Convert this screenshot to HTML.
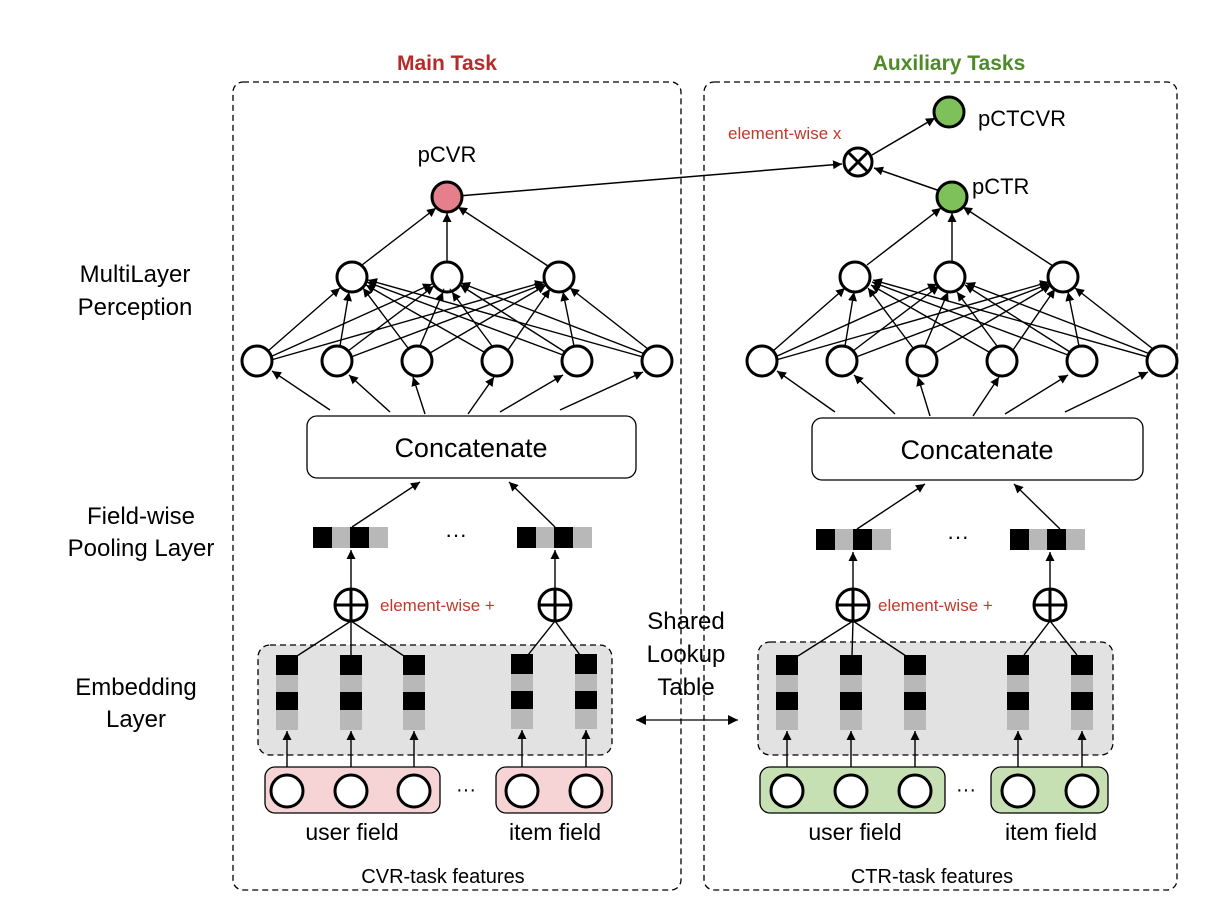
<!DOCTYPE html>
<html><head><meta charset="utf-8"><style>
html,body{margin:0;padding:0;background:#fff;}
svg{display:block;font-family:"Liberation Sans",Arial,sans-serif;}
</style></head><body>
<svg width="1212" height="924" viewBox="0 0 1212 924" xmlns="http://www.w3.org/2000/svg">
<defs>
<marker id="a" viewBox="0 0 10 10" refX="10" refY="5" markerWidth="9" markerHeight="9" markerUnits="userSpaceOnUse" orient="auto"><path d="M0,0 L10,5 L0,10 z" fill="#000"/></marker>
<marker id="b" viewBox="0 0 10 10" refX="10" refY="5" markerWidth="10" markerHeight="10" markerUnits="userSpaceOnUse" orient="auto-start-reverse"><path d="M0,0 L10,5 L0,10 z" fill="#000"/></marker>
</defs>

<!-- titles -->
<text x="447" y="70" font-size="21" font-weight="bold" fill="#b52a2a" text-anchor="middle">Main Task</text>
<text x="949" y="70" font-size="21" font-weight="bold" fill="#4f8a2a" text-anchor="middle">Auxiliary Tasks</text>

<!-- panels -->
<rect x="233" y="82" width="448" height="808" rx="10" fill="none" stroke="#000" stroke-width="1.3" stroke-dasharray="6,4"/>
<rect x="704" y="82" width="473" height="808" rx="10" fill="none" stroke="#000" stroke-width="1.3" stroke-dasharray="6,4"/>

<!-- left labels -->
<g font-size="24" text-anchor="middle" fill="#000">
<text x="135" y="282">MultiLayer</text><text x="135" y="315">Perception</text>
<text x="141" y="524">Field-wise</text><text x="141" y="556">Pooling Layer</text>
<text x="136" y="695">Embedding</text><text x="136" y="727">Layer</text>
<text x="686" y="629">Shared</text><text x="686" y="662">Lookup</text><text x="686" y="695">Table</text>
</g>
<line x1="636" y1="720" x2="738" y2="720" stroke="#000" stroke-width="1.3" marker-start="url(#b)" marker-end="url(#b)"/>

<!-- top right nodes -->
<line x1="458" y1="196" x2="842" y2="164" stroke="#000" stroke-width="1.5" marker-end="url(#a)"/>
<line x1="940" y1="191" x2="874" y2="168" stroke="#000" stroke-width="1.5" marker-end="url(#a)"/>
<line x1="872" y1="155" x2="935" y2="118" stroke="#000" stroke-width="1.5" marker-end="url(#a)"/>
<circle cx="858" cy="162" r="14" fill="#fff" stroke="#000" stroke-width="3"/>
<line x1="848" y1="152" x2="868" y2="172" stroke="#000" stroke-width="3"/>
<line x1="868" y1="152" x2="848" y2="172" stroke="#000" stroke-width="3"/>
<circle cx="949" cy="112" r="15" fill="#7ec05a" stroke="#000" stroke-width="3"/>
<circle cx="952" cy="197" r="15" fill="#7ec05a" stroke="#000" stroke-width="3"/>
<text x="978" y="126" font-size="22">pCTCVR</text>
<text x="972" y="194" font-size="22">pCTR</text>
<text x="728" y="139" font-size="17" fill="#c0392b">element-wise x</text>
<text x="447" y="162" font-size="22" text-anchor="middle">pCVR</text>
<circle cx="447" cy="197" r="15" fill="#e57f8b" stroke="#000" stroke-width="3"/>

<!-- LEFT structure -->
<g id="L">
<g stroke="#000" stroke-width="1.4" fill="none">
<!-- layer2 -> output -->
<line x1="362" y1="265" x2="436" y2="208" marker-end="url(#a)"/>
<line x1="447" y1="262" x2="447" y2="213" marker-end="url(#a)"/>
<line x1="548" y1="266" x2="458" y2="207" marker-end="url(#a)"/>
<!-- layer1 -> layer2 -->
<line x1="268" y1="351" x2="340" y2="288" marker-end="url(#a)"/>
<line x1="270" y1="357" x2="432" y2="284" marker-end="url(#a)"/>
<line x1="271" y1="360" x2="544" y2="282" marker-end="url(#a)"/>
<line x1="340" y1="346" x2="349" y2="292" marker-end="url(#a)"/>
<line x1="348" y1="351" x2="434" y2="286" marker-end="url(#a)"/>
<line x1="351" y1="357" x2="544" y2="284" marker-end="url(#a)"/>
<line x1="408" y1="348" x2="363" y2="288" marker-end="url(#a)"/>
<line x1="420" y1="346" x2="443" y2="292" marker-end="url(#a)"/>
<line x1="430" y1="353" x2="546" y2="285" marker-end="url(#a)"/>
<line x1="484" y1="352" x2="366" y2="285" marker-end="url(#a)"/>
<line x1="492" y1="346" x2="452" y2="292" marker-end="url(#a)"/>
<line x1="508" y1="350" x2="550" y2="289" marker-end="url(#a)"/>
<line x1="563" y1="355" x2="367" y2="282" marker-end="url(#a)"/>
<line x1="565" y1="352" x2="460" y2="285" marker-end="url(#a)"/>
<line x1="574" y1="346" x2="563" y2="292" marker-end="url(#a)"/>
<line x1="643" y1="357" x2="368" y2="280" marker-end="url(#a)"/>
<line x1="645" y1="354" x2="461" y2="283" marker-end="url(#a)"/>
<line x1="648" y1="349" x2="570" y2="288" marker-end="url(#a)"/>
<!-- concat -> layer1 -->
<line x1="330" y1="410" x2="272" y2="371" marker-end="url(#a)"/>
<line x1="390" y1="412" x2="349" y2="375" marker-end="url(#a)"/>
<line x1="425" y1="414" x2="413" y2="377" marker-end="url(#a)"/>
<line x1="468" y1="414" x2="494" y2="377" marker-end="url(#a)"/>
<line x1="500" y1="412" x2="563" y2="375" marker-end="url(#a)"/>
<line x1="560" y1="410" x2="643" y2="372" marker-end="url(#a)"/>
<!-- pooling -> concat -->
<line x1="352" y1="527" x2="420" y2="482" marker-end="url(#a)"/>
<line x1="555" y1="527" x2="509" y2="482" marker-end="url(#a)"/>
<!-- plus -> pooling -->
<line x1="351" y1="589" x2="351" y2="550" marker-end="url(#a)"/>
<line x1="555" y1="589" x2="555" y2="550" marker-end="url(#a)"/>
</g>
<g fill="#fff" stroke="#000" stroke-width="3">
<circle cx="352" cy="277" r="15"/><circle cx="447" cy="277" r="15"/><circle cx="559" cy="277" r="15"/>
<circle cx="257" cy="361" r="15"/><circle cx="337" cy="361" r="15"/><circle cx="417" cy="361" r="15"/>
<circle cx="497" cy="361" r="15"/><circle cx="577" cy="361" r="15"/><circle cx="657" cy="361" r="15"/>
</g>
<text x="447" y="290" font-size="12" text-anchor="middle">. .</text>
<rect x="307" y="416" width="329" height="62" rx="10" fill="#fff" stroke="#000" stroke-width="1.3"/>
<text x="471" y="457" font-size="27" text-anchor="middle">Concatenate</text>
<!-- pooling vectors -->
<g>
<rect x="313" y="527" width="19" height="21" fill="#000"/><rect x="332" y="527" width="18" height="21" fill="#b8b8b8"/>
<rect x="350" y="527" width="19" height="21" fill="#000"/><rect x="369" y="527" width="19" height="21" fill="#b8b8b8"/>
<rect x="517" y="527" width="19" height="21" fill="#000"/><rect x="536" y="527" width="18" height="21" fill="#b8b8b8"/>
<rect x="554" y="527" width="19" height="21" fill="#000"/><rect x="573" y="527" width="19" height="21" fill="#b8b8b8"/>
</g>
<text x="456" y="542" font-size="22" text-anchor="middle">···</text>
<!-- plus -->
<g fill="#fff" stroke="#000" stroke-width="3">
<circle cx="351" cy="605" r="16"/><circle cx="555" cy="605" r="16"/>
</g>
<g stroke="#000" stroke-width="3">
<line x1="335" y1="605" x2="367" y2="605"/><line x1="351" y1="589" x2="351" y2="621"/>
<line x1="539" y1="605" x2="571" y2="605"/><line x1="555" y1="589" x2="555" y2="621"/>
</g>
<text x="380" y="611" font-size="17" fill="#c0392b">element-wise +</text>
<!-- embedding -->
<rect x="258" y="645" width="354" height="110" rx="12" fill="#e2e2e2" stroke="#000" stroke-width="1.3" stroke-dasharray="6,4"/>
<g stroke="#000" stroke-width="1.4">
<line x1="351" y1="621" x2="297" y2="656"/><line x1="351" y1="621" x2="351" y2="656"/><line x1="351" y1="621" x2="404" y2="656"/>
<line x1="555" y1="621" x2="528" y2="655"/><line x1="555" y1="621" x2="580" y2="655"/>
</g>
<g>
<rect x="276" y="655" width="22" height="20" fill="#000"/><rect x="276" y="675" width="22" height="17" fill="#b8b8b8"/><rect x="276" y="692" width="22" height="18" fill="#000"/><rect x="276" y="710" width="22" height="20" fill="#b8b8b8"/>
<rect x="340" y="655" width="22" height="20" fill="#000"/><rect x="340" y="675" width="22" height="17" fill="#b8b8b8"/><rect x="340" y="692" width="22" height="18" fill="#000"/><rect x="340" y="710" width="22" height="20" fill="#b8b8b8"/>
<rect x="403" y="655" width="22" height="20" fill="#000"/><rect x="403" y="675" width="22" height="17" fill="#b8b8b8"/><rect x="403" y="692" width="22" height="18" fill="#000"/><rect x="403" y="710" width="22" height="20" fill="#b8b8b8"/>
<rect x="511" y="654" width="22" height="20" fill="#000"/><rect x="511" y="674" width="22" height="17" fill="#b8b8b8"/><rect x="511" y="691" width="22" height="18" fill="#000"/><rect x="511" y="709" width="22" height="20" fill="#b8b8b8"/>
<rect x="575" y="654" width="22" height="20" fill="#000"/><rect x="575" y="674" width="22" height="17" fill="#b8b8b8"/><rect x="575" y="691" width="22" height="18" fill="#000"/><rect x="575" y="709" width="22" height="20" fill="#b8b8b8"/>
</g>
<g stroke="#000" stroke-width="1.4">
<line x1="287" y1="775" x2="287" y2="731" marker-end="url(#a)"/>
<line x1="351" y1="775" x2="351" y2="731" marker-end="url(#a)"/>
<line x1="414" y1="775" x2="414" y2="731" marker-end="url(#a)"/>
<line x1="522" y1="775" x2="522" y2="730" marker-end="url(#a)"/>
<line x1="586" y1="775" x2="586" y2="730" marker-end="url(#a)"/>
</g>
</g>

<!-- left input boxes -->
<rect x="265" y="767" width="175" height="46" rx="10" fill="#f6d4d6" stroke="#000" stroke-width="1.3"/>
<rect x="496" y="767" width="116" height="46" rx="10" fill="#f6d4d6" stroke="#000" stroke-width="1.3"/>
<g fill="#fff" stroke="#000" stroke-width="3">
<circle cx="287" cy="791" r="16"/><circle cx="351" cy="791" r="16"/><circle cx="414" cy="791" r="16"/>
<circle cx="522" cy="791" r="16"/><circle cx="586" cy="791" r="16"/>
</g>
<text x="466" y="796" font-size="20" text-anchor="middle">···</text>
<text x="352" y="840" font-size="23" text-anchor="middle">user field</text>
<text x="555" y="840" font-size="23" text-anchor="middle">item field</text>
<text x="443" y="883" font-size="20" text-anchor="middle">CVR-task features</text>

<!-- RIGHT structure -->
<g transform="translate(505,2)">
<g stroke="#000" stroke-width="1.4" fill="none">
<line x1="362" y1="263" x2="436" y2="206" marker-end="url(#a)"/>
<line x1="447" y1="260" x2="447" y2="211" marker-end="url(#a)"/>
<line x1="548" y1="264" x2="458" y2="205" marker-end="url(#a)"/>
<line x1="268" y1="349" x2="340" y2="286" marker-end="url(#a)"/>
<line x1="270" y1="355" x2="432" y2="282" marker-end="url(#a)"/>
<line x1="271" y1="358" x2="544" y2="280" marker-end="url(#a)"/>
<line x1="340" y1="344" x2="349" y2="290" marker-end="url(#a)"/>
<line x1="348" y1="349" x2="434" y2="284" marker-end="url(#a)"/>
<line x1="351" y1="355" x2="544" y2="282" marker-end="url(#a)"/>
<line x1="408" y1="346" x2="363" y2="286" marker-end="url(#a)"/>
<line x1="420" y1="344" x2="443" y2="290" marker-end="url(#a)"/>
<line x1="430" y1="351" x2="546" y2="283" marker-end="url(#a)"/>
<line x1="484" y1="350" x2="366" y2="283" marker-end="url(#a)"/>
<line x1="492" y1="344" x2="452" y2="290" marker-end="url(#a)"/>
<line x1="508" y1="348" x2="550" y2="287" marker-end="url(#a)"/>
<line x1="563" y1="353" x2="367" y2="280" marker-end="url(#a)"/>
<line x1="565" y1="350" x2="460" y2="283" marker-end="url(#a)"/>
<line x1="574" y1="344" x2="563" y2="290" marker-end="url(#a)"/>
<line x1="643" y1="355" x2="368" y2="278" marker-end="url(#a)"/>
<line x1="645" y1="352" x2="461" y2="281" marker-end="url(#a)"/>
<line x1="648" y1="347" x2="570" y2="286" marker-end="url(#a)"/>
<line x1="330" y1="410" x2="272" y2="369" marker-end="url(#a)"/>
<line x1="390" y1="412" x2="349" y2="373" marker-end="url(#a)"/>
<line x1="425" y1="414" x2="413" y2="375" marker-end="url(#a)"/>
<line x1="468" y1="414" x2="494" y2="375" marker-end="url(#a)"/>
<line x1="500" y1="412" x2="563" y2="373" marker-end="url(#a)"/>
<line x1="560" y1="410" x2="643" y2="370" marker-end="url(#a)"/>
<line x1="352" y1="527" x2="420" y2="482" marker-end="url(#a)"/>
<line x1="555" y1="527" x2="509" y2="482" marker-end="url(#a)"/>
<line x1="348" y1="587" x2="348" y2="550" marker-end="url(#a)"/>
<line x1="545" y1="587" x2="545" y2="550" marker-end="url(#a)"/>
</g>
<g fill="#fff" stroke="#000" stroke-width="3">
<circle cx="350" cy="275" r="15"/><circle cx="445" cy="275" r="15"/><circle cx="558" cy="275" r="15"/>
<circle cx="257" cy="359" r="15"/><circle cx="337" cy="359" r="15"/><circle cx="417" cy="359" r="15"/>
<circle cx="497" cy="359" r="15"/><circle cx="577" cy="359" r="15"/><circle cx="657" cy="359" r="15"/>
</g>
<rect x="307" y="416" width="331" height="62" rx="10" fill="#fff" stroke="#000" stroke-width="1.3"/>
<text x="472" y="457" font-size="27" text-anchor="middle">Concatenate</text>
<g>
<rect x="311" y="527" width="19" height="21" fill="#000"/><rect x="330" y="527" width="18" height="21" fill="#b8b8b8"/>
<rect x="348" y="527" width="19" height="21" fill="#000"/><rect x="367" y="527" width="19" height="21" fill="#b8b8b8"/>
<rect x="505" y="527" width="19" height="21" fill="#000"/><rect x="524" y="527" width="18" height="21" fill="#b8b8b8"/>
<rect x="542" y="527" width="19" height="21" fill="#000"/><rect x="561" y="527" width="19" height="21" fill="#b8b8b8"/>
</g>
<text x="453" y="542" font-size="22" text-anchor="middle">···</text>
<g fill="#fff" stroke="#000" stroke-width="3">
<circle cx="348" cy="603" r="16"/><circle cx="545" cy="603" r="16"/>
</g>
<g stroke="#000" stroke-width="3">
<line x1="332" y1="603" x2="364" y2="603"/><line x1="348" y1="587" x2="348" y2="619"/>
<line x1="529" y1="603" x2="561" y2="603"/><line x1="545" y1="587" x2="545" y2="619"/>
</g>
<text x="373" y="609" font-size="17" fill="#c0392b">element-wise +</text>
<rect x="253" y="640" width="355" height="113" rx="12" fill="#e2e2e2" stroke="#000" stroke-width="1.3" stroke-dasharray="6,4"/>
<g stroke="#000" stroke-width="1.4">
<line x1="348" y1="619" x2="293" y2="654"/><line x1="348" y1="619" x2="347" y2="654"/><line x1="348" y1="619" x2="401" y2="654"/>
<line x1="545" y1="619" x2="519" y2="653"/><line x1="545" y1="619" x2="572" y2="653"/>
</g>
<g>
<rect x="271" y="653" width="22" height="20" fill="#000"/><rect x="271" y="673" width="22" height="17" fill="#b8b8b8"/><rect x="271" y="690" width="22" height="18" fill="#000"/><rect x="271" y="708" width="22" height="20" fill="#b8b8b8"/>
<rect x="335" y="653" width="22" height="20" fill="#000"/><rect x="335" y="673" width="22" height="17" fill="#b8b8b8"/><rect x="335" y="690" width="22" height="18" fill="#000"/><rect x="335" y="708" width="22" height="20" fill="#b8b8b8"/>
<rect x="399" y="653" width="22" height="20" fill="#000"/><rect x="399" y="673" width="22" height="17" fill="#b8b8b8"/><rect x="399" y="690" width="22" height="18" fill="#000"/><rect x="399" y="708" width="22" height="20" fill="#b8b8b8"/>
<rect x="502" y="653" width="22" height="20" fill="#000"/><rect x="502" y="673" width="22" height="17" fill="#b8b8b8"/><rect x="502" y="690" width="22" height="18" fill="#000"/><rect x="502" y="708" width="22" height="20" fill="#b8b8b8"/>
<rect x="566" y="653" width="22" height="20" fill="#000"/><rect x="566" y="673" width="22" height="17" fill="#b8b8b8"/><rect x="566" y="690" width="22" height="18" fill="#000"/><rect x="566" y="708" width="22" height="20" fill="#b8b8b8"/>
</g>
<g stroke="#000" stroke-width="1.4">
<line x1="282" y1="773" x2="282" y2="729" marker-end="url(#a)"/>
<line x1="346" y1="773" x2="346" y2="729" marker-end="url(#a)"/>
<line x1="410" y1="773" x2="410" y2="729" marker-end="url(#a)"/>
<line x1="513" y1="773" x2="513" y2="729" marker-end="url(#a)"/>
<line x1="577" y1="773" x2="577" y2="729" marker-end="url(#a)"/>
</g>
</g>

<!-- right input boxes -->
<rect x="760" y="767" width="185" height="46" rx="10" fill="#c6e0b4" stroke="#000" stroke-width="1.3"/>
<rect x="991" y="767" width="117" height="46" rx="10" fill="#c6e0b4" stroke="#000" stroke-width="1.3"/>
<g fill="#fff" stroke="#000" stroke-width="3">
<circle cx="787" cy="791" r="16"/><circle cx="851" cy="791" r="16"/><circle cx="915" cy="791" r="16"/>
<circle cx="1018" cy="791" r="16"/><circle cx="1082" cy="791" r="16"/>
</g>
<text x="966" y="796" font-size="20" text-anchor="middle">···</text>
<text x="855" y="840" font-size="23" text-anchor="middle">user field</text>
<text x="1051" y="840" font-size="23" text-anchor="middle">item field</text>
<text x="932" y="883" font-size="20" text-anchor="middle">CTR-task features</text>
</svg>
</body></html>
